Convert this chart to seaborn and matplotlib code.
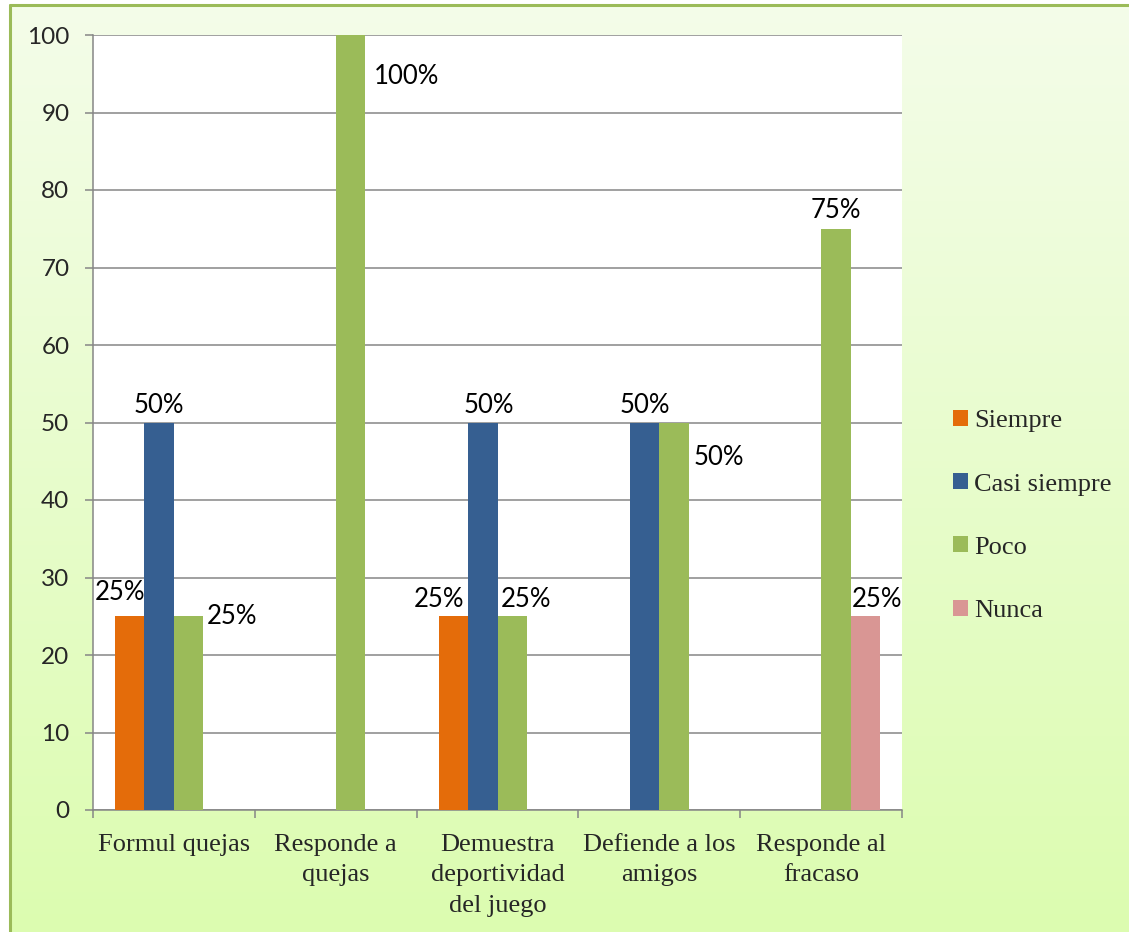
import numpy as np
import pandas as pd
import matplotlib
matplotlib.use("Agg")
import matplotlib.pyplot as plt
import seaborn as sns

categories = ["Formul quejas", "Responde a\nquejas", "Demuestra\ndeportividad\ndel juego",
              "Defiende a los\namigos", "Responde al\nfracaso"]
series = ["Siempre", "Casi siempre", "Poco", "Nunca"]
siempre = [25, np.nan, 25, np.nan, np.nan]
casi_siempre = [50, np.nan, 50, 50, np.nan]
poco = [25, 100, 25, 50, 75]
nunca = [np.nan, np.nan, np.nan, np.nan, 25]
yticks = [0, 10, 20, 30, 40, 50, 60, 70, 80, 90, 100]

colors = ["#E46C0A", "#365F91", "#9BBB59", "#D99694"]

rows = []
for s, vals in zip(series, [siempre, casi_siempre, poco, nunca]):
    for c, v in zip(categories, vals):
        if not np.isnan(v):
            rows.append({"cat": c, "serie": s, "val": v})
df = pd.DataFrame(rows)

sns.set_theme(style="white")
W, H = 1129, 932
fig = plt.figure(figsize=(W / 100, H / 100), dpi=100)
fig.patch.set_facecolor("white")

# background gradient panel
bg = fig.add_axes([10 / W, 0, 1 - 10 / W, 1 - 5 / H], zorder=-5)
top = np.array([0xF4, 0xFD, 0xE9]) / 255
bot = np.array([0xDC, 0xFC, 0xB0]) / 255
t = np.linspace(0, 1, 256)[:, None]
grad = (top[None, :] * (1 - t) + bot[None, :] * t)[:, None, :]
bg.imshow(grad, aspect="auto", extent=[0, 1, 0, 1])
bg.set_axis_off()
fig.add_artist(plt.Line2D([10 / W, 10 / W], [0, 1 - 5 / H], color="#9BBB59", lw=2.2))
fig.add_artist(plt.Line2D([10 / W, 1], [1 - 5 / H, 1 - 5 / H], color="#9BBB59", lw=2.2))

ax = fig.add_axes([93 / W, 1 - 810 / H, (902 - 93) / W, (810 - 35) / H])
ax.set_facecolor("white")
sns.barplot(data=df, x="cat", y="val", hue="serie", order=categories, hue_order=series,
            palette=colors, width=4 / 5.5, gap=0, dodge=True, saturation=1,
            errorbar=None, ax=ax, zorder=3, linewidth=0)

ax.set_ylim(0, 100)
ax.set_xlim(-0.5, len(categories) - 0.5)
ax.set_yticks(yticks)
ax.set_yticklabels([str(v) for v in yticks], fontsize=17.5, family="Lato")
ax.yaxis.grid(True, color="#868686", lw=1.1, zorder=0)
ax.xaxis.grid(False)
ax.tick_params(axis="y", length=6, width=1.1, color="#868686", pad=11, left=True, direction="out")
ax.set_xticks(range(len(categories)))
ax.set_xticklabels(categories, fontsize=19, family="Liberation Serif", linespacing=1.5)
ax.tick_params(axis="x", which="major", length=0, pad=17)
ax.set_xticks(np.arange(-0.5, len(categories)), minor=True)
ax.tick_params(axis="x", which="minor", length=6, width=1.1, color="#868686", bottom=True, direction="out")
for side in ["top", "right"]:
    ax.spines[side].set_visible(False)
for side in ["left", "bottom"]:
    ax.spines[side].set_color("#868686")
    ax.spines[side].set_linewidth(1.1)
ax.set_xlabel("")
ax.set_ylabel("")

# data labels with manual offsets (pixels) like the original
offsets = {
    (0, 0): (-10, 24), (0, 2): (-14, 17),
    (1, 0): (0, 17), (1, 2): (6, 17), (1, 3): (0, 17),
    (2, 0): (43, 0), (2, 1): (56, -41), (2, 2): (14, 17), (2, 3): (45, -35), (2, 4): (0, 18),
    (3, 4): (12, 17),
}
for si, cont in enumerate(ax.containers):
    for bar in cont:
        h = bar.get_height()
        if h is None or np.isnan(h) or h == 0:
            continue
        xc = bar.get_x() + bar.get_width() / 2
        ci = int(round(xc))
        dx, dy = offsets.get((si, ci), (0, 17))
        ax.annotate(f"{int(round(h))}%", (xc, h), xytext=(dx, dy), textcoords="offset pixels",
                    ha="center", va="center", fontsize=18.5, family="Lato", color="black",
                    annotation_clip=False, zorder=5)

handles, labels = ax.get_legend_handles_labels()
ax.legend(handles, labels, loc="center left", bbox_to_anchor=(953 / W, 1 - 516 / H),
          bbox_transform=fig.transFigure, frameon=False, borderpad=0, borderaxespad=0,
          handlelength=0.55, handleheight=0.55, handletextpad=0.25, labelspacing=1.55,
          prop={"family": "Liberation Serif", "size": 19})

fig.savefig("out.png", dpi=100)
